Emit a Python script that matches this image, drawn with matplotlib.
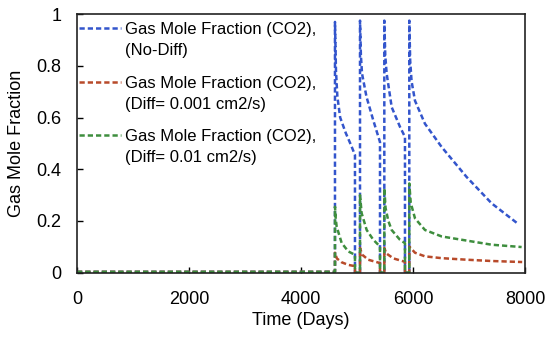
import numpy as np
import matplotlib
matplotlib.use("Agg")
import matplotlib.pyplot as plt
from matplotlib.legend_handler import HandlerLine2D

# ---------------- data ----------------
blue_x = [0, 4607,
          4607, 4625, 4650, 4700, 4800, 4900, 4964, 4964, 5054,
          5054, 5070, 5090, 5170, 5290, 5411, 5411, 5488,
          5488, 5505, 5530, 5620, 5770, 5857, 5857, 5934,
          5934, 5950, 5975, 6036, 6214, 6512, 6958, 7405, 7881]
blue_y = [0.003, 0.003,
          0.97, 0.78, 0.68, 0.60, 0.54, 0.49, 0.455, 0.0, 0.0,
          0.975, 0.84, 0.77, 0.68, 0.59, 0.505, 0.0, 0.0,
          0.975, 0.84, 0.77, 0.64, 0.563, 0.525, 0.0, 0.0,
          0.975, 0.82, 0.74, 0.665, 0.576, 0.486, 0.37, 0.268, 0.188]

red_x = [0, 4607,
         4607, 4640, 4726, 4845, 4964, 4964, 5054,
         5054, 5090, 5200, 5411, 5411, 5488,
         5488, 5520, 5650, 5857, 5857, 5934,
         5934, 6036, 6214, 6512, 6958, 7405, 7950]
red_y = [0.003, 0.003,
         0.077, 0.055, 0.040, 0.030, 0.025, 0.0, 0.0,
         0.096, 0.070, 0.050, 0.037, 0.0, 0.0,
         0.096, 0.075, 0.055, 0.042, 0.0, 0.0,
         0.101, 0.077, 0.063, 0.056, 0.050, 0.045, 0.041]

green_x = [0, 4607,
           4607, 4620, 4637, 4726, 4845, 4964, 4964, 5054,
           5054, 5083, 5173, 5292, 5411, 5411, 5488,
           5488, 5510, 5560, 5619, 5768, 5857, 5857, 5934,
           5934, 5960, 6036, 6214, 6512, 6958, 7405, 7940]
green_y = [0.003, 0.003,
           0.255, 0.21, 0.178, 0.115, 0.082, 0.069, 0.0, 0.0,
           0.30, 0.23, 0.165, 0.127, 0.101, 0.0, 0.0,
           0.327, 0.25, 0.20, 0.165, 0.127, 0.114, 0.0, 0.0,
           0.345, 0.27, 0.21, 0.165, 0.14, 0.124, 0.108, 0.099]

labels = ["Gas Mole Fraction (CO2),\n(No-Diff)",
          "Gas Mole Fraction (CO2),\n(Diff= 0.001 cm2/s)",
          "Gas Mole Fraction (CO2),\n(Diff= 0.01 cm2/s)"]
x_ticks = [0, 2000, 4000, 6000, 8000]
y_ticks = [0, 0.2, 0.4, 0.6, 0.8, 1]
y_tick_labels = ["0", "0.2", "0.4", "0.6", "0.8", "1"]

# ---------------- style ----------------
plt.rcParams['font.family'] = ['Liberation Sans', 'DejaVu Sans']
colors = ["#3355cc", "#b84a2a", "#3e8e3e"]

fig = plt.figure(figsize=(5.5, 3.37), dpi=100)
ax = fig.add_axes([0.14, 0.191, 0.8145, 0.767])

lw = 1.8
dash = (2.1, 1.2)
l1, = ax.plot(blue_x, blue_y, color=colors[0], lw=lw, dashes=dash)
l2, = ax.plot(red_x, red_y, color=colors[1], lw=lw, dashes=dash)
l3, = ax.plot(green_x, green_y, color=colors[2], lw=lw, dashes=dash)

ax.set_xlim(0, 8000)
ax.set_ylim(0, 1)
ax.set_xticks(x_ticks)
ax.set_xticklabels([str(t) for t in x_ticks])
ax.set_yticks(y_ticks)
ax.set_yticklabels(y_tick_labels)
ax.tick_params(axis='both', direction='in', labelsize=13, color='black', width=1)
ax.tick_params(axis='y', length=4, pad=11)
ax.tick_params(axis='x', length=4, pad=13)
for s in ax.spines.values():
    s.set_color('#222222')
    s.set_linewidth(1.2)

ax.set_xlabel("Time (Days)", fontsize=13, labelpad=3)
ax.set_ylabel("Gas Mole Fraction", fontsize=13, labelpad=8)


class TopHandler(HandlerLine2D):
    def create_artists(self, legend, orig_handle, xdescent, ydescent,
                       width, height, fontsize, trans):
        arts = super().create_artists(legend, orig_handle, xdescent, ydescent,
                                      width, height, fontsize, trans)
        for a in arts:
            a.set_ydata(np.asarray(a.get_ydata(), dtype=float) + 8.9)
        return arts


leg = ax.legend([l1, l2, l3], labels, loc='upper left',
                bbox_to_anchor=(0.004, 0.968), frameon=False,
                fontsize=12, handlelength=2.55, handletextpad=0.25,
                borderaxespad=0, borderpad=0, labelspacing=1.05,
                handler_map={matplotlib.lines.Line2D: TopHandler()})
for t in leg.get_texts():
    t.set_linespacing(1.5)

fig.savefig("out.png", dpi=100)
